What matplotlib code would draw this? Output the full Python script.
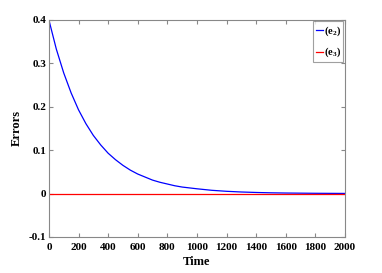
import matplotlib
matplotlib.use('Agg')
import matplotlib.pyplot as plt

# values
time = [0, 50, 100, 150, 200, 250, 300, 350, 400, 450, 500, 550, 600, 650, 700, 750,
        800, 850, 900, 950, 1000, 1100, 1200, 1300, 1400, 1500, 1600, 1800, 2000]
e2 = [0.400, 0.333, 0.278, 0.232, 0.193, 0.161, 0.134, 0.112, 0.093, 0.078, 0.065,
      0.054, 0.045, 0.038, 0.031, 0.026, 0.022, 0.018, 0.015, 0.013, 0.011, 0.0075,
      0.0052, 0.0036, 0.0025, 0.0017, 0.0012, 0.0006, 0.0003]
e3 = [0.0] * len(time)

xticks = [0, 200, 400, 600, 800, 1000, 1200, 1400, 1600, 1800, 2000]
yticks = [-0.1, 0, 0.1, 0.2, 0.3, 0.4]
yticklabels = ['-0.1', '0', '0.1', '0.2', '0.3', '0.4']

plt.rcParams['font.family'] = 'Liberation Serif'
plt.rcParams['font.weight'] = 'bold'
plt.rcParams['mathtext.fontset'] = 'custom'
plt.rcParams['mathtext.rm'] = 'Liberation Serif:bold'
plt.rcParams['mathtext.it'] = 'Liberation Serif:bold'
plt.rcParams['mathtext.default'] = 'rm'

fig = plt.figure(figsize=(3.82, 2.73), dpi=100)
ax = fig.add_axes([0.128, 0.132, 0.775, 0.795])

ax.plot(time, e2, color='blue', lw=0.9, label='(e$_2$)')
ax.plot(time, e3, color='red', lw=0.9, label='(e$_3$)')

ax.set_xlim(0, 2000)
ax.set_ylim(-0.1, 0.4)
ax.set_xticks(xticks)
ax.set_yticks(yticks)
ax.set_yticklabels(yticklabels)
ax.tick_params(direction='in', top=True, right=True, labelsize=8, length=3,
               color='#888888', pad=2)
ax.tick_params(axis='x', pad=4)
for lab in ax.get_xticklabels() + ax.get_yticklabels():
    lab.set_fontweight('bold')
for s in ax.spines.values():
    s.set_color('#888888')
    s.set_linewidth(0.8)

ax.set_xlabel('Time', fontsize=9, fontweight='bold', labelpad=3)
ax.set_ylabel('Errors', fontsize=9, fontweight='bold', labelpad=4)

leg = ax.legend(loc='upper right', fontsize=7.5, handlelength=0.7, handletextpad=0.05,
                borderpad=0.25, borderaxespad=0.15, fancybox=False, labelspacing=0.8,
                handleheight=0.7)
leg.get_frame().set_edgecolor('#888888')
leg.get_frame().set_linewidth(0.8)

fig.savefig('out.png', dpi=100)
